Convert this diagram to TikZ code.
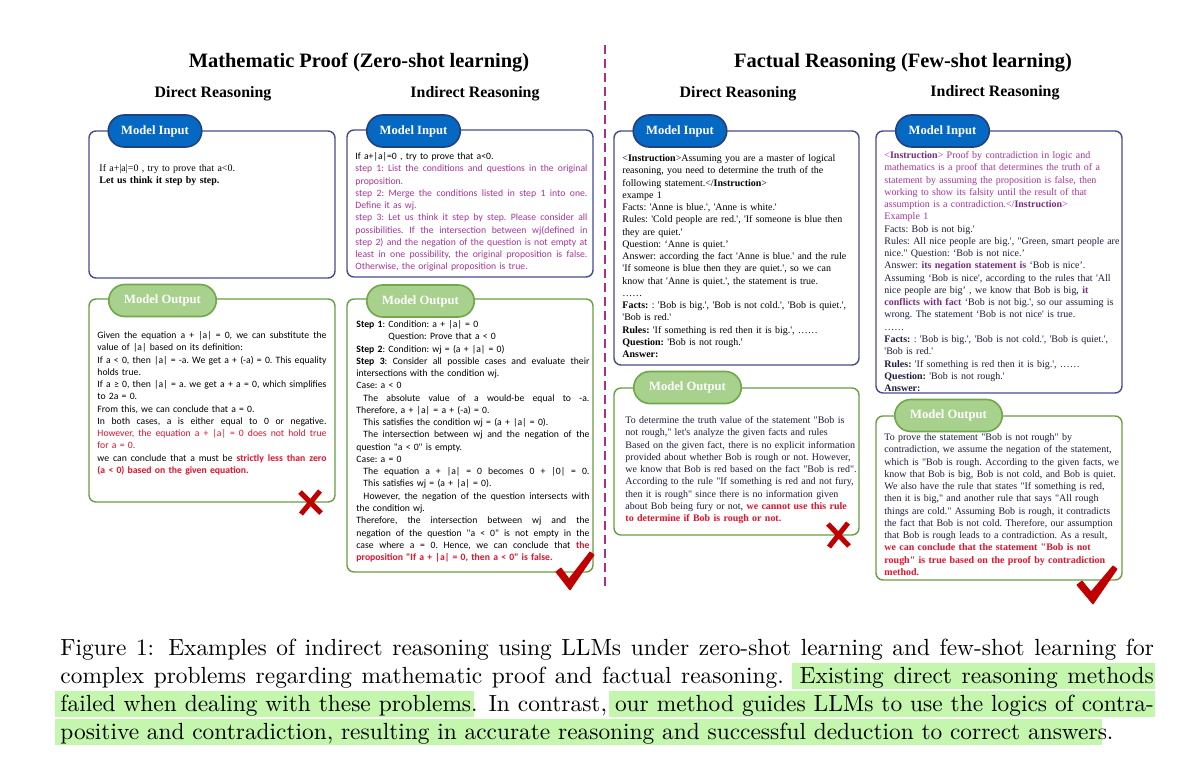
\documentclass[tikz,border=0pt]{standalone}
\usepackage{fontspec}
\newfontfamily\timesfont{Liberation Serif}
\newfontfamily\calibrifont{Carlito}
\usetikzlibrary{shapes.misc}
\definecolor{inblue}{HTML}{0568C2}
\definecolor{indark}{HTML}{22417E}
\definecolor{inframe}{HTML}{4A4B8E}
\definecolor{outgreen}{HTML}{A9D18E}
\definecolor{outdark}{HTML}{70A84A}
\definecolor{outframe}{HTML}{6A9E42}
\definecolor{promptpurple}{HTML}{A8339A}
\definecolor{deeppurple}{HTML}{7A2A84}
\definecolor{answerred}{HTML}{E0142E}
\definecolor{markred}{HTML}{C00000}
\definecolor{navytext}{HTML}{1C1C3C}
\definecolor{splitline}{HTML}{A8308C}
\definecolor{hlgreen}{HTML}{C4F6AE}

\newdimen\pxu \pxu=0.428pt
% one justified line
\newcommand{\jl}[1]{\makebox[\hsize][s]{\spaceskip=0pt\relax\xspaceskip=0pt\relax#1}}
\newcommand{\redb}[1]{{\color{answerred}\bfseries #1}}

\tikzset{
	inbox/.style={
			draw=inframe,
			line width=0.6pt,
			rounded corners=3pt
		},
	outbox/.style={
			draw=outframe,
			line width=0.6pt,
			rounded corners=3pt
		},
	inpill/.style={
			rounded rectangle,
			draw=indark,
			fill=inblue,
			line width=0.7pt,
			text=white,
			font=\timesfont\bfseries\fontsize{5.4}{6}\selectfont,
			minimum width=40pt,
			minimum height=13.7pt,
			inner sep=0pt
		},
	outpill/.style={
			inpill,
			draw=outdark,
			fill=outgreen,
			minimum width=46pt
		},
	headline/.style={
			font=\timesfont\bfseries\fontsize{8.75}{10}\selectfont,
			inner sep=0pt
		},
	subheadline/.style={
			font=\timesfont\bfseries\fontsize{6.8}{8}\selectfont,
			inner sep=0pt
		},
	serifbody/.style={
			anchor=base west,
			inner sep=0pt,
			text width=115pt,
			font=\timesfont\fontsize{4.27}{5.25}\selectfont\frenchspacing
		},
	sansbody/.style={
			anchor=base west,
			inner sep=0pt,
			font=\calibrifont\fontsize{4.15}{5.25}\selectfont\frenchspacing
		},
	wrongmark/.style={
			draw=markred,
			line width=5\pxu
		},
	rightmark/.style={
			fill=markred,
			draw=markred,
			line width=0.4pt,
			line join=round
		}
}

\begin{document}
\begin{tikzpicture}[x=\pxu, y=-\pxu]
\useasboundingbox (0,0) rectangle (1194,774);
\fill[white] (0,0) rectangle (1194,774);

% headings
\node[headline] (mathtitle) at (359,63) {Mathematic Proof (Zero-shot learning)};
\node[headline] (facttitle) at (903,63) {Factual Reasoning (Few-shot learning)};
\node[subheadline] (mathdirect) at (213,94) {Direct Reasoning};
\node[subheadline] (mathindirect) at (475,94) {Indirect Reasoning};
\node[subheadline] (factdirect) at (738,94) {Direct Reasoning};
\node[subheadline] (factindirect) at (995,93) {Indirect Reasoning};

\draw[splitline, line width=1.1\pxu, dash pattern=on 9\pxu off 5\pxu] (605,45) -- (605,590);

% frames
\draw[inbox] (89,131) rectangle (335,278);
\draw[inbox] (347,130) rectangle (593,277);
\draw[outbox] (89,299) rectangle (335,502);
\draw[outbox] (347,299) rectangle (593,572);
\draw[inbox] (614,131) rectangle (859,365);
\draw[inbox] (876,131) rectangle (1122,393);
\draw[outbox] (614,388) rectangle (859,535);
\draw[outbox] (876,416) rectangle (1122,580);

% tabs
\node[inpill] (inA) at (155,131) {Model Input};
\node[inpill] (inB) at (413.5,131) {Model Input};
\node[outpill] (outA) at (162.5,300.5) {Model Output};
\node[outpill] (outB) at (420.5,301) {Model Output};
\node[inpill] (inC) at (680,131) {Model Input};
\node[inpill] (inD) at (942.5,131) {Model Input};
\node[outpill] (outC) at (687.5,387.5) {Model Output};
\node[outpill] (outD) at (948.5,415.5) {Model Output};

% zero-shot, direct
\node[serifbody] (inAtext) at (99,171.5) {If a+|a|=0 , try to prove that a<0.\\
\textbf{Let us think it step by step.}};

% zero-shot, indirect
\node[sansbody, text width=232\pxu] (inBtext) at (355,159.5) {If a+|a|=0 , try to prove that a<0.\\
\color{promptpurple}\jl{step 1: List the conditions and questions in the original}\\
proposition.\\
\jl{step 2: Merge the conditions listed in step 1 into one.}\\
Define it as wj.\\
\jl{step 3: Let us think it step by step. Please consider all}\\
\jl{possibilities. If the intersection between wj(defined in}\\
\jl{step 2) and the negation of the question is not empty at}\\
\jl{least in one possibility, the original proposition is false.}\\
Otherwise, the original proposition is true.};

\node[sansbody, text width=229\pxu] (outAtext) at (97,338.5) {\jl{Given the equation a + |a| = 0, we can substitute the}\\
value of |a| based on its definition:\\
\jl{If a < 0, then |a| = -a. We get a + (-a) = 0. This equality}\\
holds true.\\
\jl{If a ≥ 0, then |a| = a. we get a + a = 0, which simplifies}\\
to 2a = 0.\\
From this, we can conclude that a = 0.\\
\jl{In both cases, a is either equal to 0 or negative.}\\
\jl{\color{answerred}However, the equation a + |a| = 0 does not hold true}\\
{\color{answerred}for a = 0.}\\
\jl{we can conclude that a must be \redb{strictly less than zero}}\\
\redb{(a < 0) based on the given equation.}};

\node[sansbody, text width=233\pxu] (outBtext) at (356,327.5) {\textbf{Step 1}: Condition: a + |a| = 0\\
\hspace*{13.7pt}Question: Prove that a < 0\\
\textbf{Step 2}: Condition: wj = (a + |a| = 0)\\
\jl{\textbf{Step 3}: Consider all possible cases and evaluate their}\\
intersections with the condition wj.\\
Case: a < 0\\
\jl{\hspace*{3pt}The absolute value of a would-be equal to -a.}\\
Therefore, a + |a| = a + (-a) = 0.\\
\hspace*{3pt}This satisfies the condition wj = (a + |a| = 0).\\
\jl{\hspace*{3pt}The intersection between wj and the negation of the}\\
question "a < 0" is empty.\\
Case: a = 0\\
\jl{\hspace*{3pt}The equation a + |a| = 0 becomes 0 + |0| = 0.}\\
\hspace*{3pt}This satisfies wj = (a + |a| = 0).\\
\jl{\hspace*{3pt}However, the negation of the question intersects with}\\
the condition wj.\\
\jl{Therefore, the intersection between wj and the}\\
\jl{negation of the question "a < 0" is not empty in the}\\
\jl{case where a = 0. Hence, we can conclude that \redb{the}}\\
\redb{proposition "If a + |a| = 0, then a < 0" is false.}};

% few-shot, direct
\node[serifbody] (inCtext) at (622,161.5) {<\textbf{Instruction}>Assuming you are a master of logical\\
reasoning, you need to determine the truth of the\\
following statement.</\textbf{Instruction}>\\
exampe 1\\
Facts: 'Anne is blue.', 'Anne is white.'\\
Rules: 'Cold people are red.', 'If someone is blue then\\
they are quiet.'\\
Question: ‘Anne is quiet.’\\
Answer: according the fact 'Anne is blue.' and the rule\\
'If someone is blue then they are quiet.', so we can\\
know that 'Anne is quiet.', the statement is true.\\
……\\
\textbf{Facts:} : 'Bob is big.', 'Bob is not cold.', 'Bob is quiet.',\\
'Bob is red.'\\
\textbf{Rules:} 'If something is red then it is big.', ……\\
\textbf{Question:} 'Bob is not rough.'\\
\textbf{Answer:}};

\node[serifbody, text=navytext] (outCtext) at (625,423.5) {To determine the truth value of the statement "Bob is\\
not rough," let's analyze the given facts and rules\\
Based on the given fact, there is no explicit information\\
provided about whether Bob is rough or not. However,\\
we know that Bob is red based on the fact "Bob is red".\\
According to the rule "If something is red and not fury,\\
then it is rough" since there is no information given\\
about Bob being fury or not, \redb{we cannot use this rule}\\
\redb{to determine if Bob is rough or not.}};

% few-shot, indirect
\node[serifbody] (inDtext) at (884,158.5) {\color{promptpurple}<{\color{deeppurple}\textbf{Instruction}}> Proof by contradiction in logic and\\
mathematics is a proof that determines the truth of a\\
statement by assuming the proposition is false, then\\
working to show its falsity until the result of that\\
assumption is a contradiction.</{\color{deeppurple}\textbf{Instruction}}>\\
Example 1\\
\color{navytext}Facts: Bob is not big.'\\
Rules: All nice people are big.', "Green, smart people are\\
nice." Question: ‘Bob is not nice.’\\
Answer: {\color{deeppurple}\textbf{its negation statement is}} ‘Bob is nice’.\\
Assuming ‘Bob is nice', according to the rules that 'All\\
nice people are big’ , we know that Bob is big, {\color{deeppurple}\textbf{it}}\\
{\color{deeppurple}\textbf{conflicts with fact}} ‘Bob is not big.', so our assuming is\\
wrong. The statement ‘Bob is not nice' is true.\\
……\\
\textbf{Facts:} : 'Bob is big.', 'Bob is not cold.', 'Bob is quiet.',\\
'Bob is red.'\\
\textbf{Rules:} 'If something is red then it is big.', ……\\
\textbf{Question:} 'Bob is not rough.'\\
\textbf{Answer:}};

\node[serifbody, text=navytext] (outDtext) at (884,440.5) {To prove the statement "Bob is not rough" by\\
contradiction, we assume the negation of the statement,\\
which is "Bob is rough. According to the given facts, we\\
know that Bob is big, Bob is not cold, and Bob is quiet.\\
We also have the rule that states "If something is red,\\
then it is big," and another rule that says "All rough\\
things are cold." Assuming Bob is rough, it contradicts\\
the fact that Bob is not cold. Therefore, our assumption\\
that Bob is rough leads to a contradiction. As a result,\\
\redb{we can conclude that the statement "Bob is not}\\
\redb{rough" is true based on the proof by contradiction}\\
\redb{method.}};

% verdicts
\draw[wrongmark] (300,492) -- (321,513);
\draw[wrongmark] (320,491) -- (301,514);
\draw[wrongmark] (828,524) -- (849,546);
\draw[wrongmark] (848,523) -- (829,547);
\filldraw[rightmark] (556,572) -- (561,568) -- (569,579) -- (590,552) -- (594,555) -- (570,590) -- cycle;
\filldraw[rightmark] (1077,585) -- (1082,581) -- (1091,592) -- (1113,566) -- (1117,569) -- (1093,604) -- cycle;

% caption
\fill[hlgreen] (792,663) rectangle (1155,689);
\fill[hlgreen] (55,691) rectangle (474,717);
\fill[hlgreen] (609,691) rectangle (1155,717);
\fill[hlgreen] (55,719) rectangle (1102,745);
\node[anchor=base west, inner sep=0pt, text width=468pt, font=\fontsize{10}{12.1}\selectfont] (caption) at (60,655) {\jl{Figure 1: Examples of indirect reasoning using LLMs under zero-shot learning and few-shot learning for}\\
\jl{complex problems regarding mathematic proof and factual reasoning. Existing direct reasoning methods}\\
\jl{failed when dealing with these problems. In contrast, our method guides LLMs to use the logics of contra-}\\
positive and contradiction, resulting in accurate reasoning and successful deduction to correct answers.};
\end{tikzpicture}
\end{document}
